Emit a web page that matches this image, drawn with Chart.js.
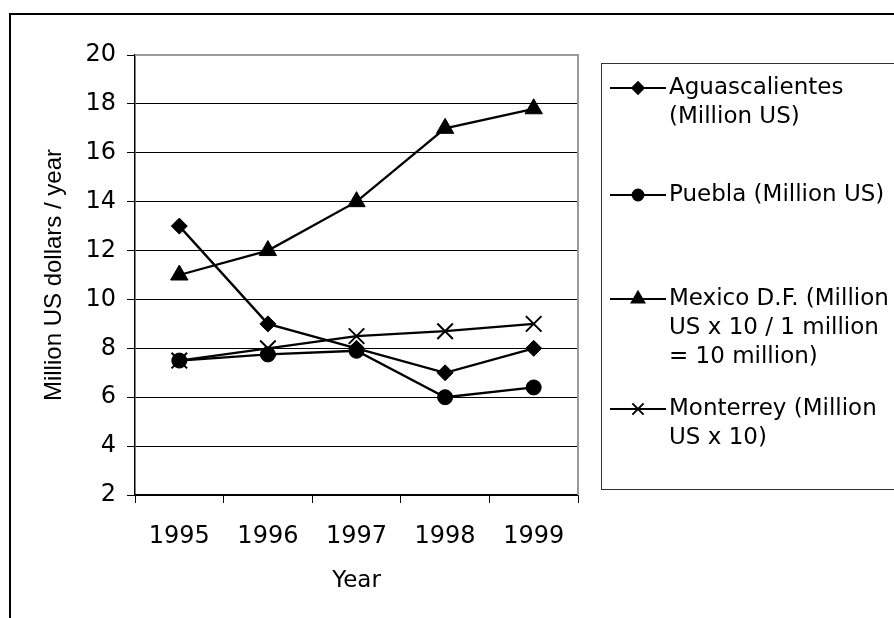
<!DOCTYPE html>
<html>
<head>
<meta charset="utf-8">
<script src="https://cdn.jsdelivr.net/npm/chart.js@4/dist/chart.umd.min.js"></script>
<style>
  html, body { margin: 0; padding: 0; background: #fff; }
  #wrap { width: 894px; height: 618px; }
</style>
</head>
<body>
<div id="wrap"><canvas id="c" width="894" height="618"></canvas></div>
<script>
// Yearly figures per city
const years = ['1995', '1996', '1997', '1998', '1999'];
const aguascalientes = [13, 9, 8, 7, 8];
const puebla = [7.5, 7.75, 7.9, 6, 6.4];
const mexicoDF = [11, 12, 14, 17, 17.8];
const monterrey = [7.5, 8, 8.5, 8.7, 9];

// Legend text, already broken into lines
const aguascalientesName = ['Aguascalientes', '(Million US)'];
const pueblaName = ['Puebla (Million US)'];
const mexicoDFName = ['Mexico D.F. (Million', 'US x 10 / 1 million', '= 10 million)'];
const monterreyName = ['Monterrey (Million', 'US x 10)'];

const yAxisMin = 2;
const yAxisMax = 20;
const yAxisStep = 2;
const yAxisTitle = 'Million US dollars / year';
const xAxisTitle = 'Year';

const FONT = '"DejaVu Sans", sans-serif';

function series(name, values, style, radius, width) {
  return {
    label: name.join(' '),
    nameLines: name,
    data: values,
    borderColor: '#000',
    backgroundColor: '#000',
    borderWidth: 2.3,
    pointStyle: style,
    pointRadius: radius,
    pointHoverRadius: radius,
    pointBorderWidth: width,
    pointBackgroundColor: '#000',
    pointBorderColor: '#000',
    tension: 0,
    fill: false
  };
}

// Page frame (top and left edges show) and white ground
const framePlugin = {
  id: 'frame',
  beforeDraw(chart) {
    const ctx = chart.ctx;
    ctx.save();
    ctx.fillStyle = '#fff';
    ctx.fillRect(0, 0, chart.width, chart.height);
    ctx.strokeStyle = '#000';
    ctx.lineWidth = 2;
    ctx.beginPath();
    ctx.moveTo(10, chart.height + 5);
    ctx.lineTo(10, 14);
    ctx.lineTo(chart.width + 5, 14);
    ctx.stroke();
    ctx.restore();
  }
};

// Grey outline on the plot area's top and right sides
const plotBorderPlugin = {
  id: 'plotBorder',
  beforeDatasetsDraw(chart) {
    const { ctx, chartArea: a } = chart;
    ctx.save();
    ctx.strokeStyle = '#9a9a9a';
    ctx.lineWidth = 2;
    ctx.beginPath();
    ctx.moveTo(a.left, a.top);
    ctx.lineTo(a.right, a.top);
    ctx.lineTo(a.right, a.bottom);
    ctx.stroke();
    ctx.restore();
  }
};

// Boxed legend on the right with wrapped entry names
const boxLegendPlugin = {
  id: 'boxLegend',
  afterDraw(chart) {
    const ctx = chart.ctx;
    const rows = [88, 195, 299, 409];
    const lineGap = 29;
    ctx.save();
    ctx.strokeStyle = '#333';
    ctx.lineWidth = 1;
    ctx.strokeRect(601.5, 63.5, 400, 426);
    ctx.font = '23px ' + FONT;
    ctx.textBaseline = 'middle';
    ctx.textAlign = 'left';
    chart.data.datasets.forEach((ds, i) => {
      const y0 = rows[i];
      ctx.strokeStyle = '#000';
      ctx.lineWidth = 2;
      ctx.beginPath();
      ctx.moveTo(610, y0);
      ctx.lineTo(666, y0);
      ctx.stroke();
      ctx.fillStyle = '#000';
      Chart.helpers.drawPoint(ctx, {
        pointStyle: ds.pointStyle,
        radius: ds.pointRadius * 0.72,
        rotation: 0,
        borderWidth: ds.pointBorderWidth
      }, 638, y0);
      ctx.fillStyle = '#000';
      ds.nameLines.forEach((t, k) => {
        ctx.fillText(t, 669, y0 + k * lineGap);
      });
    });
    ctx.restore();
  }
};

new Chart(document.getElementById('c'), {
  type: 'line',
  data: {
    labels: years,
    datasets: [
      series(aguascalientesName, aguascalientes, 'rectRot', 8, 1),
      series(pueblaName, puebla, 'circle', 7.5, 1),
      series(mexicoDFName, mexicoDF, 'triangle', 10, 1),
      series(monterreyName, monterrey, 'crossRot', 11, 2)
    ]
  },
  options: {
    responsive: false,
    animation: false,
    devicePixelRatio: 1,
    layout: { padding: { top: 55, right: 316, left: 0, bottom: 0 } },
    plugins: {
      legend: { display: false },
      tooltip: { enabled: false },
      title: { display: false }
    },
    scales: {
      x: {
        type: 'category',
        offset: true,
        afterFit(scale) { scale.height = 123; },
        grid: {
          offset: true,
          drawOnChartArea: false,
          drawTicks: true,
          tickLength: 8,
          tickColor: '#000',
          lineWidth: 1
        },
        border: { display: true, color: '#000', width: 1.5 },
        ticks: {
          color: '#000',
          font: { family: FONT, size: 24 },
          padding: 19,
          maxRotation: 0,
          autoSkip: false
        },
        title: {
          display: true,
          text: xAxisTitle,
          color: '#000',
          font: { family: FONT, size: 23 },
          padding: { top: 0, bottom: 23 }
        }
      },
      y: {
        min: yAxisMin,
        max: yAxisMax,
        afterFit(scale) { scale.width = 135; },
        grid: {
          color: (c) => (c.tick && c.tick.value === yAxisMax) ? 'rgba(0,0,0,0)' : '#000',
          lineWidth: 1,
          drawTicks: true,
          tickLength: 8,
          tickColor: '#000'
        },
        border: { display: true, color: '#000', width: 1.5 },
        ticks: {
          stepSize: yAxisStep,
          color: '#000',
          font: { family: FONT, size: 24 },
          padding: 11
        },
        title: {
          display: true,
          text: yAxisTitle,
          color: '#000',
          font: { family: '"Liberation Sans", Arial, sans-serif', size: 24 },
          padding: { top: 40, bottom: 0 }
        }
      }
    }
  },
  plugins: [framePlugin, plotBorderPlugin, boxLegendPlugin]
});
</script>
</body>
</html>
